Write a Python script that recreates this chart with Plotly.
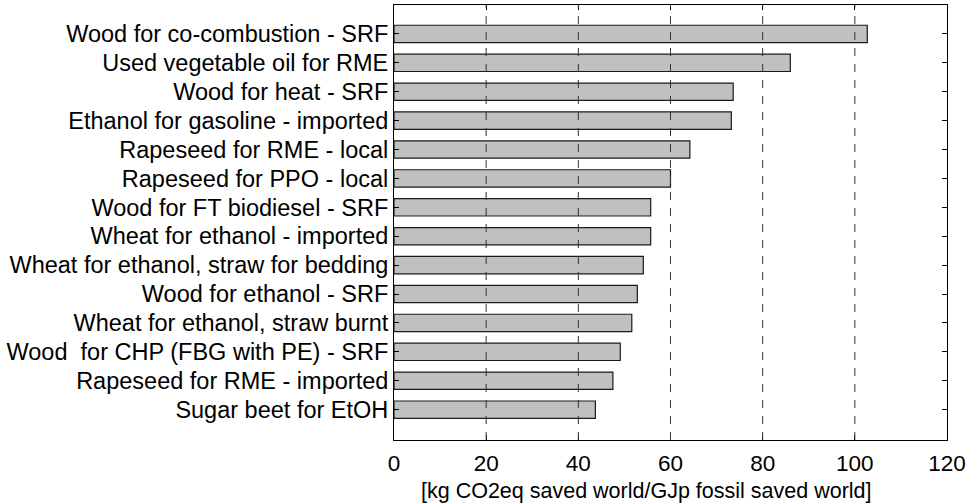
import plotly.graph_objects as go

categories = [
    "Wood for co-combustion - SRF",
    "Used vegetable oil for RME",
    "Wood for heat - SRF",
    "Ethanol for gasoline - imported",
    "Rapeseed for RME - local",
    "Rapeseed for PPO - local",
    "Wood for FT biodiesel - SRF",
    "Wheat for ethanol - imported",
    "Wheat for ethanol, straw for bedding",
    "Wood for ethanol - SRF",
    "Wheat for ethanol, straw burnt",
    "Wood  for CHP (FBG with PE) - SRF",
    "Rapeseed for RME - imported",
    "Sugar beet for EtOH",
]
values = [102.7, 86.0, 73.6, 73.2, 64.2, 60.0, 55.7, 55.7, 54.1, 52.8, 51.6, 49.1, 47.5, 43.7]
x_ticks = [0, 20, 40, 60, 80, 100, 120]
grid_ticks = [20, 40, 60, 80, 100]
x_title = "[kg CO2eq saved world/GJp fossil saved world]"

font_family = "Liberation Sans, Arial, sans-serif"

fig = go.Figure()
fig.add_trace(go.Bar(
    x=values,
    y=categories,
    orientation="h",
    width=0.6,
    marker=dict(color="#c0c0c0", line=dict(color="#1a1a1a", width=1.2)),
    hoverinfo="x+y",
))

for g in grid_ticks:
    fig.add_shape(type="line", xref="x", yref="paper", x0=g, x1=g, y0=0, y1=1,
                  line=dict(color="#333333", width=1, dash="8px,8px"), layer="above")

fig.add_annotation(text=x_title, xref="paper", yref="paper", x=0.457, y=-0.117,
                   xanchor="center", yanchor="middle", showarrow=False,
                   font=dict(size=21.5, color="black"))

fig.update_layout(
    width=973, height=504,
    margin=dict(l=394, r=26, t=5, b=64),
    paper_bgcolor="white", plot_bgcolor="white",
    showlegend=False,
    font=dict(family=font_family, size=22, color="black"),
    bargap=0.4,
)
fig.update_xaxes(
    range=[0, 120], tickvals=x_ticks, ticktext=[str(v) for v in x_ticks],
    showgrid=False, zeroline=False,
    showline=True, linecolor="black", linewidth=1, mirror="ticks",
    ticks="inside", ticklen=5, tickcolor="black",
    tickfont=dict(size=22.5), ticklabelstandoff=3,
)
fig.update_yaxes(
    type="category", categoryorder="array", categoryarray=categories,
    range=[14.05, -1],
    showgrid=False, zeroline=False,
    showline=True, linecolor="black", linewidth=1, mirror="ticks",
    ticks="inside", ticklen=5, tickcolor="black",
    tickfont=dict(size=23.5),
)

fig.write_html("out.html", config={"displayModeBar": False},
               post_script="document.body.style.margin='0';document.body.style.padding='0';")
